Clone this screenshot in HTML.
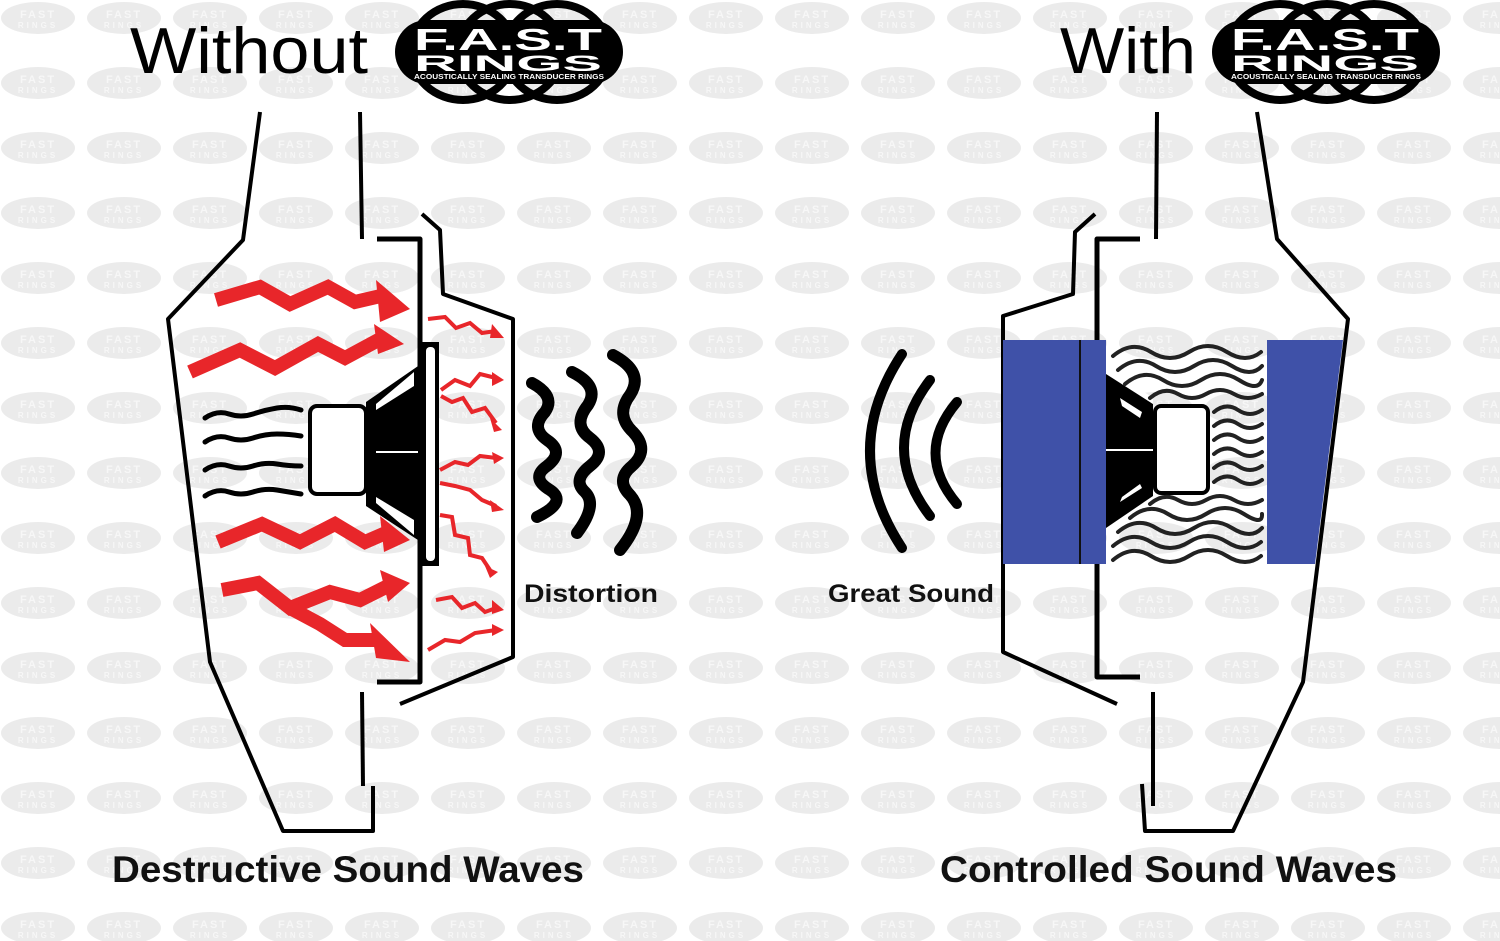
<!DOCTYPE html>
<html><head><meta charset="utf-8"><style>
html,body{margin:0;padding:0;background:#fff;}
svg{display:block;}
</style></head><body>
<svg width="1500" height="941" viewBox="0 0 1500 941" xmlns="http://www.w3.org/2000/svg" font-family="'Liberation Sans', sans-serif">
<defs>
<pattern id="wm" patternUnits="userSpaceOnUse" x="-5" y="-14" width="86" height="65">
<ellipse cx="43" cy="32" rx="37" ry="16" fill="#ebebeb"/>
<text x="43" y="32" font-size="11" font-weight="bold" fill="#f7f7f7" text-anchor="middle" letter-spacing="2">FAST</text>
<text x="43" y="42" font-size="8" font-weight="bold" fill="#f7f7f7" text-anchor="middle" letter-spacing="3">RINGS</text>
</pattern>
</defs>
<rect width="1500" height="941" fill="#fff"/>
<rect width="1500" height="941" fill="url(#wm)"/>

<!-- Logos -->
<g id="logoL">
<g fill="none" stroke="#000" stroke-width="8">
<ellipse cx="463" cy="52" rx="52" ry="48"/>
<ellipse cx="510" cy="52" rx="52" ry="48"/>
<ellipse cx="557" cy="52" rx="52" ry="48"/>
</g>
<rect x="395" y="20" width="228" height="64" rx="32" fill="#000"/>
<text x="414" y="50" font-size="31" font-weight="bold" fill="#fff" textLength="188" lengthAdjust="spacingAndGlyphs">F.A.S.T</text>
<text x="414" y="71" font-size="22" font-weight="bold" fill="#fff" textLength="188" lengthAdjust="spacingAndGlyphs">RINGS</text>
<text x="414" y="79" font-size="7" font-weight="bold" fill="#fff" textLength="190" lengthAdjust="spacingAndGlyphs">ACOUSTICALLY SEALING TRANSDUCER RINGS</text>
</g>
<use href="#logoL" x="817" y="0"/>

<text x="130" y="73" font-size="65" fill="#000" textLength="238" lengthAdjust="spacingAndGlyphs">Without</text>
<text x="1060" y="73" font-size="65" fill="#000" textLength="136" lengthAdjust="spacingAndGlyphs">With</text>

<!-- LEFT FIGURE -->
<g fill="none" stroke="#000" stroke-width="4" stroke-linejoin="round">
<polyline points="260,112 243,240 168,319 210,662 283,831 373,831 373,786"/>
<polyline points="360,112 362,239"/>
<polyline points="362,692 363,786"/>
<polyline points="377,239 420,239 420,682 377,682" stroke-width="5"/>
<polyline points="422,214 440,230 443,294 513,319 513,657 400,704"/>
</g>
<rect x="421" y="342" width="18" height="224" fill="#000"/>
<rect x="426" y="347" width="9" height="214" rx="4" fill="#fff"/>
<polygon points="421,364 421,542 366,506 366,402" fill="#000"/>
<polygon points="414,372 414,386 376,410 376,404" fill="#fff"/>
<polygon points="414,535 414,520 376,497 376,503" fill="#fff"/>
<line x1="376" y1="452" x2="418" y2="452" stroke="#fff" stroke-width="2"/>
<rect x="310" y="406" width="56" height="88" rx="7" fill="#fff" stroke="#000" stroke-width="4"/>
<g fill="none" stroke="#000" stroke-width="5" stroke-linecap="round">
<path d="M205,418 q12,-8 24,-4 t24,0 t24,-6 t24,2"/>
<path d="M205,442 q12,-8 24,-4 t24,0 t24,-4 t24,2"/>
<path d="M205,470 q12,-8 24,-4 t24,0 t24,-2 t24,2"/>
<path d="M205,496 q12,-8 24,-4 t24,0 t24,-2 t24,4"/>
</g>
<g fill="none" stroke="#e8262a" stroke-width="14" stroke-linejoin="miter" stroke-linecap="butt">
<polyline points="216,300 260,287 290,304 328,287 355,302 385,295"/>
<polyline points="190,372 240,350 275,368 318,344 345,358 382,338"/>
<polyline points="218,542 262,524 300,542 335,524 365,542 388,532"/>
<polyline points="222,590 258,583 290,608 330,592 360,600 388,586"/>
<polyline points="290,608 320,624 345,640 378,640"/>
</g>
<g fill="#e8262a">
<polygon points="376,280 410,309 380,322"/>
<polygon points="374,324 404,344 378,354"/>
<polygon points="380,516 410,540 384,552"/>
<polygon points="380,570 410,583 388,602"/>
<polygon points="370,623 410,662 376,658"/>
</g>
<g fill="none" stroke="#e8262a" stroke-width="4" stroke-linejoin="miter">
<polyline points="428,319 445,317 456,328 470,323 482,333 496,331"/>
<polyline points="441,390 455,380 470,386 480,374 496,378"/>
<polyline points="441,396 452,402 463,398 472,412 485,408 496,423"/>
<polyline points="440,470 455,462 468,465 480,456 496,458"/>
<polyline points="440,483 455,486 470,490 482,500 496,506"/>
<polyline points="440,515 452,517 455,535 468,538 470,555 482,558 490,570"/>
<polyline points="436,600 452,597 462,608 475,603 485,612 496,608"/>
<polyline points="428,650 445,640 460,642 475,633 496,630"/>
</g>
<g fill="#e8262a">
<polygon points="492,324 504,338 490,338"/>
<polygon points="492,372 504,380 492,386"/>
<polygon points="490,418 502,430 494,432"/>
<polygon points="492,452 504,458 494,464"/>
<polygon points="490,500 504,510 492,512"/>
<polygon points="485,566 498,572 490,578"/>
<polygon points="492,600 504,610 492,614"/>
<polygon points="492,624 504,630 492,636"/>
</g>
<g fill="none" stroke="#000" stroke-width="12" stroke-linecap="round" stroke-linejoin="round">
<path d="M532,383 Q556,396 545,412 Q530,428 547,440 Q565,452 547,466 Q530,478 550,490 Q568,502 537,517"/>
<path d="M572,372 Q600,386 588,405 Q572,425 590,438 Q608,452 590,466 Q572,480 585,492 Q598,505 577,533"/>
<path d="M613,355 Q645,372 630,395 Q615,415 633,432 Q650,450 632,466 Q615,480 630,495 Q648,515 620,550"/>
</g>
<text x="524" y="602" font-size="25" font-weight="bold" fill="#111" textLength="134" lengthAdjust="spacingAndGlyphs">Distortion</text>

<!-- RIGHT FIGURE -->
<g fill="none" stroke="#000" stroke-width="4" stroke-linejoin="round">
<polyline points="1257,112 1277,239 1348,319 1303,682 1233,831 1145,831 1142,784"/>
<polyline points="1157,112 1156,239"/>
<polyline points="1153,692 1153,806"/>
<polyline points="1140,239 1097,239 1097,677 1140,677" stroke-width="5"/>
<polyline points="1095,214 1075,232 1073,294 1003,316 1003,652 1117,704"/>
</g>
<rect x="1003" y="340" width="76" height="224" fill="#3f51a8"/>
<rect x="1081" y="340" width="25" height="224" fill="#3f51a8"/>
<line x1="1080" y1="340" x2="1080" y2="564" stroke="#111" stroke-width="2"/>
<polygon points="1267,340 1343,340 1315,564 1267,564" fill="#3f51a8"/>
<polygon points="1106,372 1153,404 1153,496 1106,528" fill="#000"/>
<polygon points="1106,366 1153,398 1153,404 1106,374" fill="#fff"/>
<polygon points="1120,398 1142,412 1140,418 1122,406" fill="#fff"/>
<polygon points="1120,502 1142,488 1140,484 1122,497" fill="#fff"/>
<line x1="1106" y1="450" x2="1153" y2="450" stroke="#fff" stroke-width="2"/>
<rect x="1155" y="406" width="53" height="87" rx="6" fill="#fff" stroke="#000" stroke-width="4"/>
<g fill="none" stroke="#222" stroke-width="4" stroke-linecap="round">
<path d="M1113,356 q19,-16 38,-4 t38,0 t38,0 t34,0"/>
<path d="M1118,370 q19,-16 38,-4 t38,0 t38,0 t30,0"/>
<path d="M1125,384 q19,-16 38,-4 t38,0 t38,0 t23,0"/>
<path d="M1150,398 q14,-12 28,-4 t28,0 t28,0 t28,0"/>
<path d="M1214,412 q12,-10 24,-2 t24,0"/>
<path d="M1214,426 q12,-10 24,-2 t24,0"/>
<path d="M1214,440 q12,-10 24,-2 t24,0"/>
<path d="M1214,454 q12,-10 24,-2 t24,0"/>
<path d="M1214,468 q12,-10 24,-2 t24,0"/>
<path d="M1214,482 q12,-10 24,-2 t24,0"/>
<path d="M1150,504 q14,-12 28,-4 t28,0 t28,0 t28,0"/>
<path d="M1130,518 q19,-16 38,-4 t38,0 t38,0 t18,0"/>
<path d="M1118,532 q19,-16 38,-4 t38,0 t38,0 t30,0"/>
<path d="M1113,546 q19,-16 38,-4 t38,0 t38,0 t34,0"/>
<path d="M1113,560 q19,-16 38,-4 t38,0 t38,0 t34,0"/>
</g>
<g fill="none" stroke="#000" stroke-width="10" stroke-linecap="round">
<path d="M902,354 Q838,451 902,548"/>
<path d="M930,380 Q878,448 930,516"/>
<path d="M957,402 Q914,453 957,504"/>
</g>
<text x="828" y="602" font-size="25" font-weight="bold" fill="#111" textLength="166" lengthAdjust="spacingAndGlyphs">Great Sound</text>

<text x="112" y="882" font-size="37" font-weight="bold" fill="#111" textLength="472" lengthAdjust="spacingAndGlyphs">Destructive Sound Waves</text>
<text x="940" y="882" font-size="37" font-weight="bold" fill="#111" textLength="457" lengthAdjust="spacingAndGlyphs">Controlled Sound Waves</text>
</svg>
</body></html>
